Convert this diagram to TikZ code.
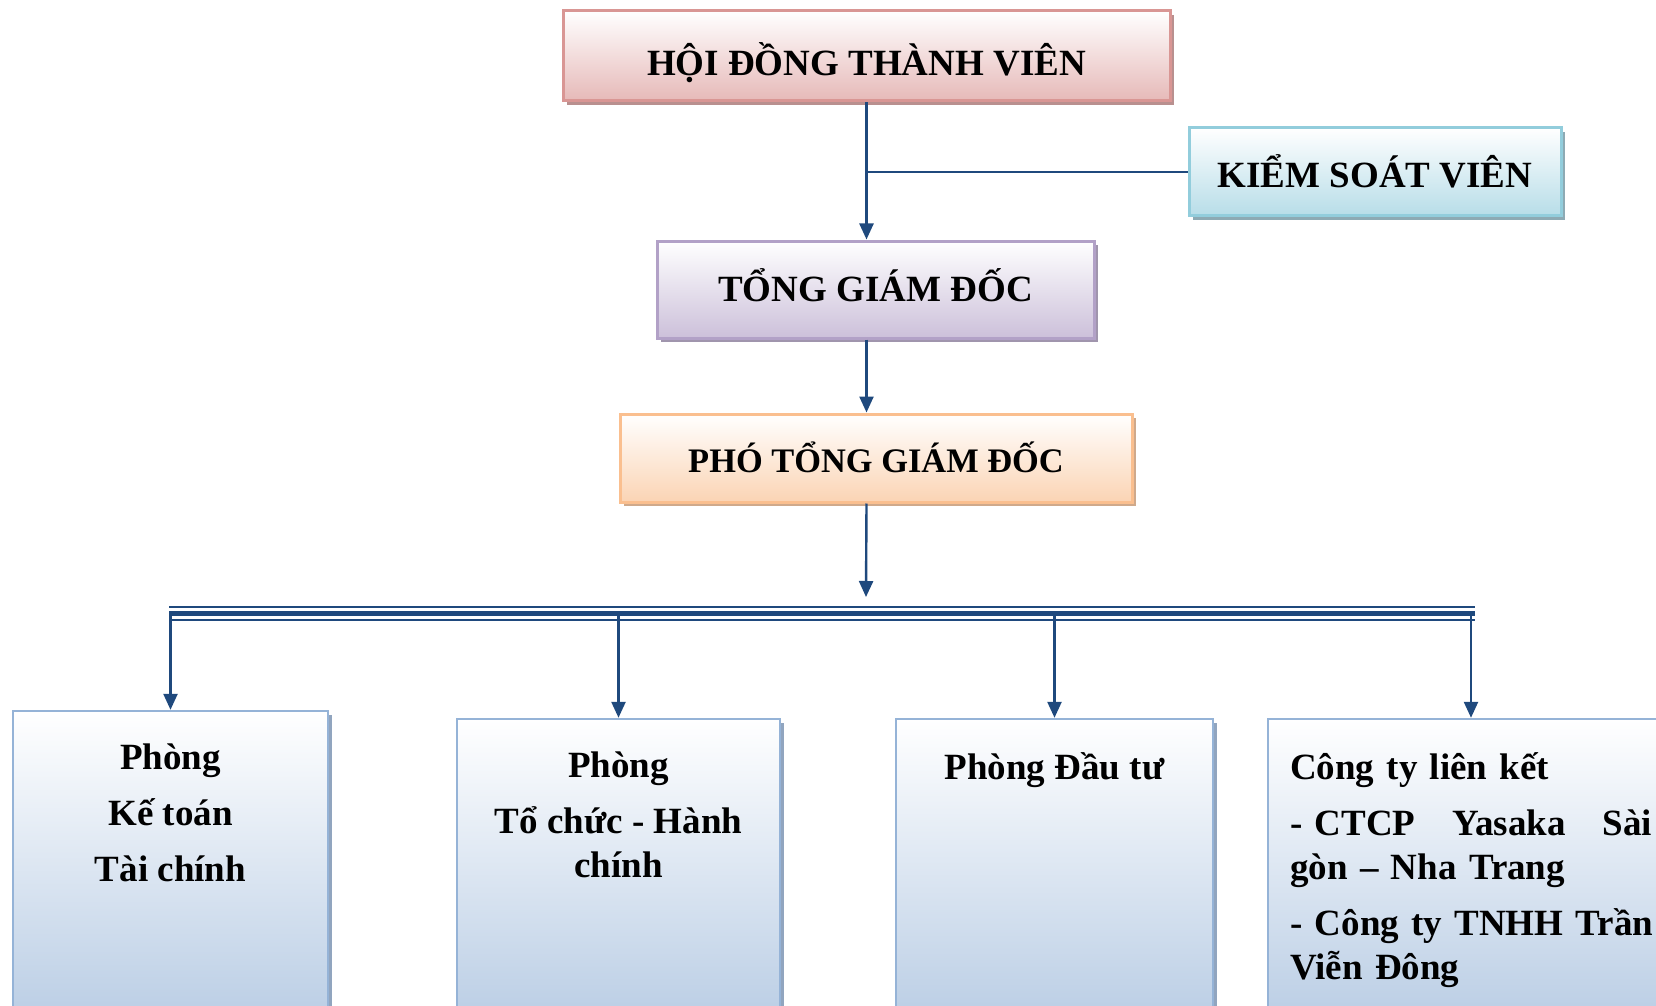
\documentclass[tikz,border=0pt]{standalone}
\usepackage{fontspec}
\setmainfont{Liberation Serif}
\usetikzlibrary{arrows.meta,shadows}

\definecolor{linkblue}{HTML}{1F497D}
\definecolor{hdtvfill}{HTML}{E6B9B8}
\definecolor{hdtvdraw}{HTML}{D99694}
\definecolor{hdtvshadow}{HTML}{B9908F}
\definecolor{ksvfill}{HTML}{B7DDE8}
\definecolor{ksvdraw}{HTML}{92CDDC}
\definecolor{ksvshadow}{HTML}{8DAAB4}
\definecolor{tgdfill}{HTML}{CCC0DA}
\definecolor{tgddraw}{HTML}{B2A1C7}
\definecolor{tgdshadow}{HTML}{A095AD}
\definecolor{ptgdfill}{HTML}{FBD4B4}
\definecolor{ptgddraw}{HTML}{FABF8F}
\definecolor{ptgdshadow}{HTML}{CFA98B}
\definecolor{deptfill}{HTML}{B8CCE4}
\definecolor{deptdraw}{HTML}{95B3D7}
\definecolor{deptshadow}{HTML}{91A5BF}

\begin{document}
\begin{tikzpicture}[x=0.5pt, y=-0.5pt,
    headbox/.style={draw=#1draw, line width=1.5pt, top color=white, bottom color=#1fill,
        drop shadow={shadow xshift=2pt, shadow yshift=-2pt, fill=#1shadow, opacity=1},
        inner sep=0pt, text height=16pt, text depth=2pt,
        font=\fontsize{18.5}{22}\selectfont\bfseries},
    deptbox/.style={draw=deptdraw, line width=1.2pt, top color=white, bottom color=deptfill,
        drop shadow={shadow xshift=2pt, shadow yshift=-2pt, fill=deptshadow, opacity=1},
        inner sep=0pt},
    depttext/.style={inner sep=0pt, font=\fontsize{18.5}{22}\selectfont\bfseries},
    conn/.style={linkblue, line width=1.2pt},
    arr/.style={conn, -{Triangle[length=8pt, width=7pt]}}]

    \path[use as bounding box, clip] (0,0) rectangle (1656,1006);

    % Board and controller
    \node[headbox=hdtv, minimum width=303.5pt, minimum height=45pt,
        text height=20pt, text depth=0pt] (hdtv) at (866.5,56) {HỘI ĐỒNG THÀNH VIÊN};
    \node[headbox=ksv, minimum width=186pt, minimum height=44pt,
        text height=18pt] (ksv) at (1375,172) {KIỂM SOÁT VIÊN};

    % Directors
    \node[headbox=tgd, minimum width=218.5pt, minimum height=48.5pt,
        text height=14pt] (tgd) at (875.5,289.5) {TỔNG GIÁM ĐỐC};
    \node[headbox=ptgd, minimum width=256pt, minimum height=44pt,
        font=\fontsize{17.2}{22}\selectfont\bfseries] (ptgd) at (876,458) {PHÓ TỔNG GIÁM ĐỐC};

    % Departments
    \node[deptbox, minimum width=157.5pt, minimum height=159.5pt] (ketoan) at (170.5,870.5) {};
    \node[deptbox, minimum width=161.5pt, minimum height=155.5pt] (tochuc) at (618.5,874.5) {};
    \node[deptbox, minimum width=158.5pt, minimum height=155.5pt] (dautu) at (1054.5,874.5) {};
    \node[deptbox, minimum width=203pt, minimum height=155.5pt] (lienket) at (1471,874.5) {};

    \node[depttext, anchor=north, align=center] (ketoantext) at ([yshift=-17pt]ketoan.north)
        {Phòng\\[6pt]Kế toán\\[6pt]Tài chính};
    \node[depttext, anchor=north, align=center] (tochuctext) at ([yshift=-17pt]tochuc.north)
        {Phòng\\[6pt]Tổ chức - Hành\\chính};
    \node[depttext, anchor=north, align=center] (daututext) at ([yshift=-17pt]dautu.north)
        {Phòng Đầu tư};
    \node[depttext, anchor=north west, text width=181pt, align=left] (lienkettext)
        at ([xshift=11.5pt, yshift=-17pt]lienket.north west)
        {Công ty liên kết\\[6pt]- CTCP\hfill Yasaka\hfill Sài\\gòn – Nha Trang\\[6pt]\mbox{- Công ty TNHH Trần}\\Viễn Đông};

    % Vertical links
    \draw[arr] (hdtv.south) -- (hdtv.south |- tgd.north);
    \draw[conn] (hdtv.south |- ksv.west) -- (ksv.west);
    \draw[arr] (hdtv.south |- tgd.south) -- (hdtv.south |- ptgd.north);
    \coordinate (busin) at (866,597);
    \draw[arr] (hdtv.south |- ptgd.south) -- (busin);

    % Bus line
    \coordinate (busL) at (169,613.5);
    \coordinate (busR) at (1475,613.5);
    \draw[conn, line width=1.2pt] ([yshift=3.25pt]busL) -- ([yshift=3.25pt]busR);
    \draw[conn, line width=2.2pt] (busL) -- (busR);
    \draw[conn, line width=1.2pt] ([yshift=-3.25pt]busL) -- ([yshift=-3.25pt]busR);

    % Drops to departments
    \draw[arr] (ketoan.north |- busL) -- (ketoan.north);
    \draw[arr] (tochuc.north |- busL) -- (tochuc.north);
    \draw[arr] (dautu.north |- busL) -- (dautu.north);
    \draw[arr] (lienket.north |- busL) -- (lienket.north);
\end{tikzpicture}
\end{document}
